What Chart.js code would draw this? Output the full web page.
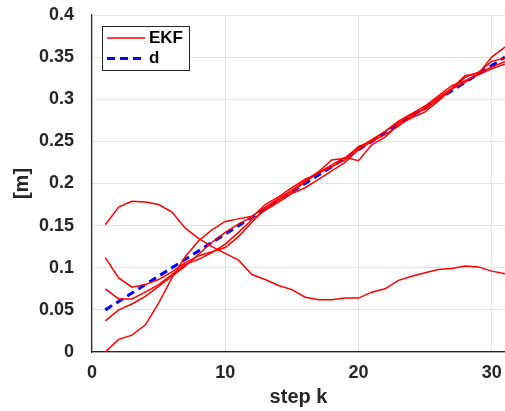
<html>
<head>
<style>
  body { margin: 0; background: #fff; }
  #wrap { width: 505px; height: 411px; }
</style>
</head>
<body>
<div id="wrap">
    <canvas id="myChart" width="505" height="411"></canvas>
</div>

<script src="https://cdn.jsdelivr.net/npm/chart.js"></script>
<script>
    // step index
    let steps = [1, 2, 3, 4, 5, 6, 7, 8, 9, 10, 11, 12, 13, 14, 15, 16, 17, 18, 19, 20, 21, 22, 23, 24, 25, 26, 27, 28, 29, 30, 31];

    // reference d
    let d = [0.05, 0.06, 0.07, 0.08, 0.09, 0.10, 0.11, 0.12, 0.13, 0.14, 0.15, 0.16, 0.17, 0.18, 0.19, 0.20,
             0.21, 0.22, 0.23, 0.24, 0.25, 0.26, 0.27, 0.28, 0.29, 0.30, 0.31, 0.32, 0.33, 0.34, 0.35];

    // EKF runs
    let ekf1 = [0.151, 0.172, 0.179, 0.178, 0.175, 0.166, 0.147, 0.135, 0.125, 0.117, 0.109, 0.092, 0.086, 0.079, 0.074, 0.065,
                0.062, 0.062, 0.064, 0.064, 0.071, 0.075, 0.085, 0.090, 0.094, 0.098, 0.099, 0.102, 0.101, 0.096, 0.093];
    let ekf2 = [0.112, 0.088, 0.077, 0.080, 0.086, 0.095, 0.106, 0.114, 0.119, 0.124, 0.137, 0.154, 0.170, 0.180, 0.190, 0.202,
                0.213, 0.222, 0.231, 0.227, 0.246, 0.255, 0.270, 0.278, 0.285, 0.298, 0.312, 0.320, 0.330, 0.350, 0.362];
    let ekf3 = [0.075, 0.063, 0.063, 0.071, 0.080, 0.092, 0.104, 0.110, 0.118, 0.128, 0.142, 0.157, 0.168, 0.178, 0.188, 0.195,
                0.205, 0.215, 0.225, 0.240, 0.250, 0.258, 0.268, 0.280, 0.290, 0.302, 0.313, 0.328, 0.331, 0.338, 0.345];
    let ekf4 = [0.037, 0.050, 0.057, 0.066, 0.078, 0.090, 0.102, 0.116, 0.130, 0.142, 0.152, 0.160, 0.175, 0.184, 0.195, 0.205,
                0.212, 0.220, 0.228, 0.242, 0.252, 0.262, 0.274, 0.283, 0.292, 0.304, 0.316, 0.322, 0.329, 0.336, 0.342];
    let ekf5 = [0.000, 0.015, 0.020, 0.032, 0.058, 0.088, 0.113, 0.132, 0.145, 0.155, 0.158, 0.161, 0.172, 0.182, 0.192, 0.203,
                0.214, 0.228, 0.230, 0.244, 0.250, 0.262, 0.272, 0.282, 0.288, 0.300, 0.312, 0.326, 0.332, 0.345, 0.349];

    let xTicks = [0, 10, 20, 30];
    let yTicks = [0, 0.05, 0.1, 0.15, 0.2, 0.25, 0.3, 0.35, 0.4];

    const axisColor = '#262626';
    const gridColor = '#e3e3e3';
    const fam = '"Liberation Sans", Arial, sans-serif';

    function red(data, label) {
        return {
            label: label,
            data: data,
            borderColor: '#ff0000',
            borderWidth: 1.5,
            pointRadius: 0,
            fill: false,
            tension: 0
        };
    }

    // legend drawn inside the plot, like the original
    const boxLegend = {
        id: 'boxLegend',
        afterDraw(chart) {
            const c = chart.ctx;
            c.save();
            c.fillStyle = '#fff';
            c.fillRect(102, 26, 87, 44);
            c.strokeStyle = axisColor;
            c.lineWidth = 1;
            c.strokeRect(102.5, 26.5, 87, 44);

            c.strokeStyle = '#ff0000';
            c.lineWidth = 1.5;
            c.beginPath();
            c.moveTo(107, 38);
            c.lineTo(145, 38);
            c.stroke();

            c.strokeStyle = '#0000ff';
            c.lineWidth = 3;
            c.setLineDash([8, 5]);
            c.beginPath();
            c.moveTo(107, 58.5);
            c.lineTo(145, 58.5);
            c.stroke();
            c.setLineDash([]);

            c.fillStyle = '#000';
            c.font = 'bold 17px ' + fam;
            c.textBaseline = 'middle';
            c.fillText('EKF', 149, 38);
            c.fillText('d', 149, 58);
            c.restore();
        }
    };

    const ctx = document.getElementById('myChart');

    new Chart(ctx, {
        type: 'line',
        data: {
            labels: steps,
            datasets: [
                red(ekf1, 'EKF'),
                red(ekf2, 'EKF'),
                red(ekf3, 'EKF'),
                red(ekf4, 'EKF'),
                red(ekf5, 'EKF'),
                {
                    label: 'd',
                    data: d,
                    borderColor: '#0000ff',
                    borderWidth: 3,
                    borderDash: [8, 5],
                    pointRadius: 0,
                    fill: false
                }
            ]
        },
        options: {
            responsive: false,
            animation: false,
            layout: { padding: { top: 0, right: 0, left: 0, bottom: 0 } },
            plugins: {
                legend: { display: false },
                tooltip: { enabled: false }
            },
            scales: {
                x: {
                    type: 'linear',
                    min: 0,
                    max: 31,
                    afterBuildTicks: (s) => { s.ticks = xTicks.map(v => ({ value: v })); },
                    afterFit: (s) => { s.height = 59; s.paddingRight = 0; s.paddingLeft = 0; },
                    grid: { color: gridColor, drawTicks: false },
                    border: { color: axisColor, width: 1.2 },
                    ticks: {
                        color: axisColor,
                        padding: 10,
                        maxRotation: 0,
                        font: { family: fam, size: 18, weight: 'bold' }
                    },
                    title: {
                        display: true,
                        text: 'step k',
                        color: axisColor,
                        padding: { top: 0, bottom: 2 },
                        font: { family: fam, size: 20, weight: 'bold' }
                    }
                },
                y: {
                    min: 0,
                    max: 0.4,
                    afterBuildTicks: (s) => { s.ticks = yTicks.map(v => ({ value: v })); },
                    afterFit: (s) => { s.width = 92; s.paddingTop = 15; s.paddingBottom = 0; },
                    grid: { color: gridColor, drawTicks: false },
                    border: { color: axisColor, width: 1.2 },
                    ticks: {
                        color: axisColor,
                        padding: 18,
                        callback: (v) => String(Math.round(v * 100) / 100),
                        font: { family: fam, size: 18, weight: 'bold' }
                    },
                    title: {
                        display: true,
                        text: '[m]',
                        color: axisColor,
                        padding: { top: 10, bottom: 0 },
                        font: { family: fam, size: 20, weight: 'bold' }
                    }
                }
            }
        },
        plugins: [boxLegend]
    });
</script>
</body>
</html>
